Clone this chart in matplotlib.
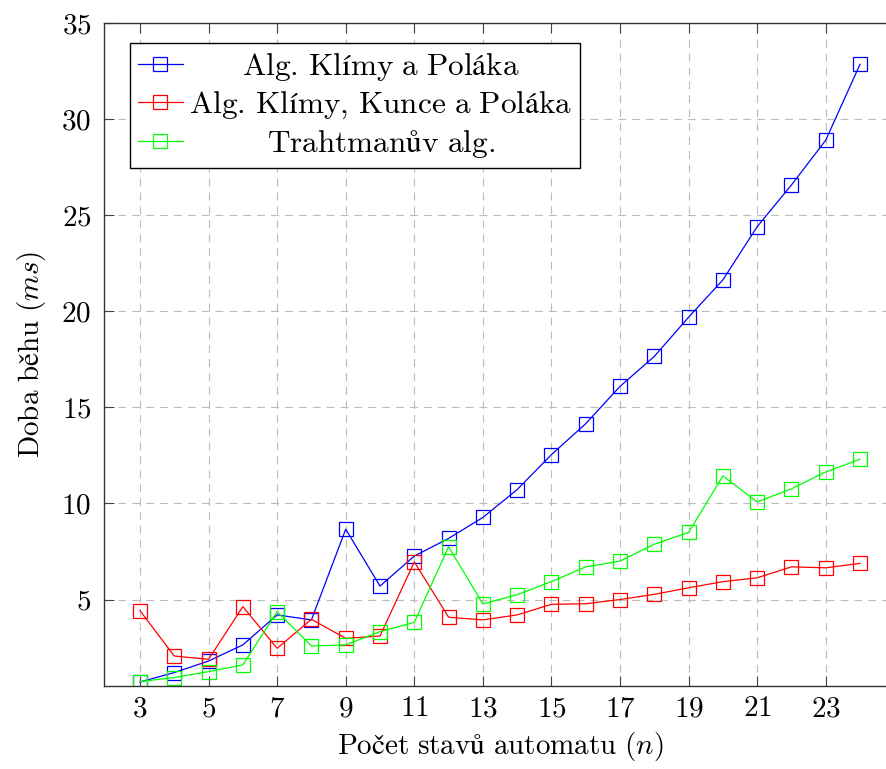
import numpy as np
import matplotlib
matplotlib.use("Agg")
import matplotlib.pyplot as plt

# number of automaton states
n_states = list(range(3, 25))

# running times in ms
klima_polak = [0.71, 1.2, 1.8, 2.64, 4.2, 3.94, 8.66, 5.7, 7.26, 8.18, 9.27,
               10.72, 12.54, 14.15, 16.09, 17.65, 19.69, 21.63, 24.4, 26.57,
               28.9, 32.85]
klima_kunc_polak = [4.42, 2.06, 1.89, 4.63, 2.46, 3.97, 2.98, 3.1, 6.96, 4.08,
                    3.94, 4.2, 4.75, 4.78, 5.0, 5.27, 5.61, 5.93, 6.13, 6.7,
                    6.65, 6.88]
trahtman = [0.73, 0.94, 1.25, 1.6, 4.37, 2.58, 2.64, 3.33, 3.81, 7.74, 4.77,
            5.25, 5.93, 6.7, 7.0, 7.88, 8.49, 11.43, 10.08, 10.76, 11.64, 12.3]

# mathtext with the cm fontset so the Czech accents come out right
# (mathtext already adds a small space after '.' and ',')
labels = [r'$\mathrm{Alg.\,Klímy\ a\ Poláka}$',
          r'$\mathrm{Alg.\,Klímy,\,Kunce\ a\ Poláka}$',
          r'$\mathrm{Trahtmanův\ alg.}$']
colors = ['#0000ff', '#ff0000', '#00ff00']
x_ticks = list(range(3, 24, 2))
y_ticks = list(range(5, 36, 5))

plt.rcParams['font.family'] = ['cmr10', 'STIXGeneral']
plt.rcParams['mathtext.fontset'] = 'cm'
plt.rcParams['axes.formatter.use_mathtext'] = True
fs = 21

fig = plt.figure(figsize=(8.87, 7.69), dpi=100)
ax = fig.add_axes([104 / 887, 1 - 686 / 769, 792 / 887, 663 / 769])

for series, label, color in zip([klima_polak, klima_kunc_polak, trahtman], labels, colors):
    ax.plot(n_states, series, color=color, lw=0.9, marker='s', markersize=9.5,
            markerfacecolor='none', markeredgecolor=color, markeredgewidth=0.9,
            label=label)

ax.set_xlim(1.95, 25.05)
ax.set_ylim(0.5, 35)
ax.set_xticks(x_ticks)
ax.set_yticks(y_ticks)
ax.tick_params(direction='in', length=7, width=0.8, color='#444444',
               top=True, right=True, labelsize=fs, pad=7)
ax.tick_params(axis='y', pad=9)
ax.grid(True, color='#bbbbbb', lw=0.8, ls=(0, (7, 5.5)))
ax.set_axisbelow(True)
for s in ax.spines.values():
    s.set_color('#333333')
    s.set_linewidth(1.0)

ax.set_xlabel(r'$\mathrm{Počet\ stavů\ automatu\ (}n\mathrm{)}$', fontsize=fs, labelpad=6)
ax.set_ylabel(r'$\mathrm{Doba\ běhu\ (}ms\mathrm{)}$', fontsize=fs, labelpad=10)

leg = ax.legend(loc='upper left', bbox_to_anchor=(26 / 792, 1 - 20 / 663),
                fontsize=22.5, fancybox=False, framealpha=1, edgecolor='black',
                handlelength=1.45, handletextpad=0.2, labelspacing=0.22,
                borderpad=0.25, borderaxespad=0)
leg.get_frame().set_linewidth(1.0)

# pgfplots centres the legend texts, shift the shorter ones
renderer = fig.canvas.get_renderer()
widths = [t.get_window_extent(renderer).width for t in leg.get_texts()]
wmax = max(widths)
for t, w in zip(leg.get_texts(), widths):
    t.set_x((wmax - w) / 2)

fig.savefig('out.png', dpi=100)
